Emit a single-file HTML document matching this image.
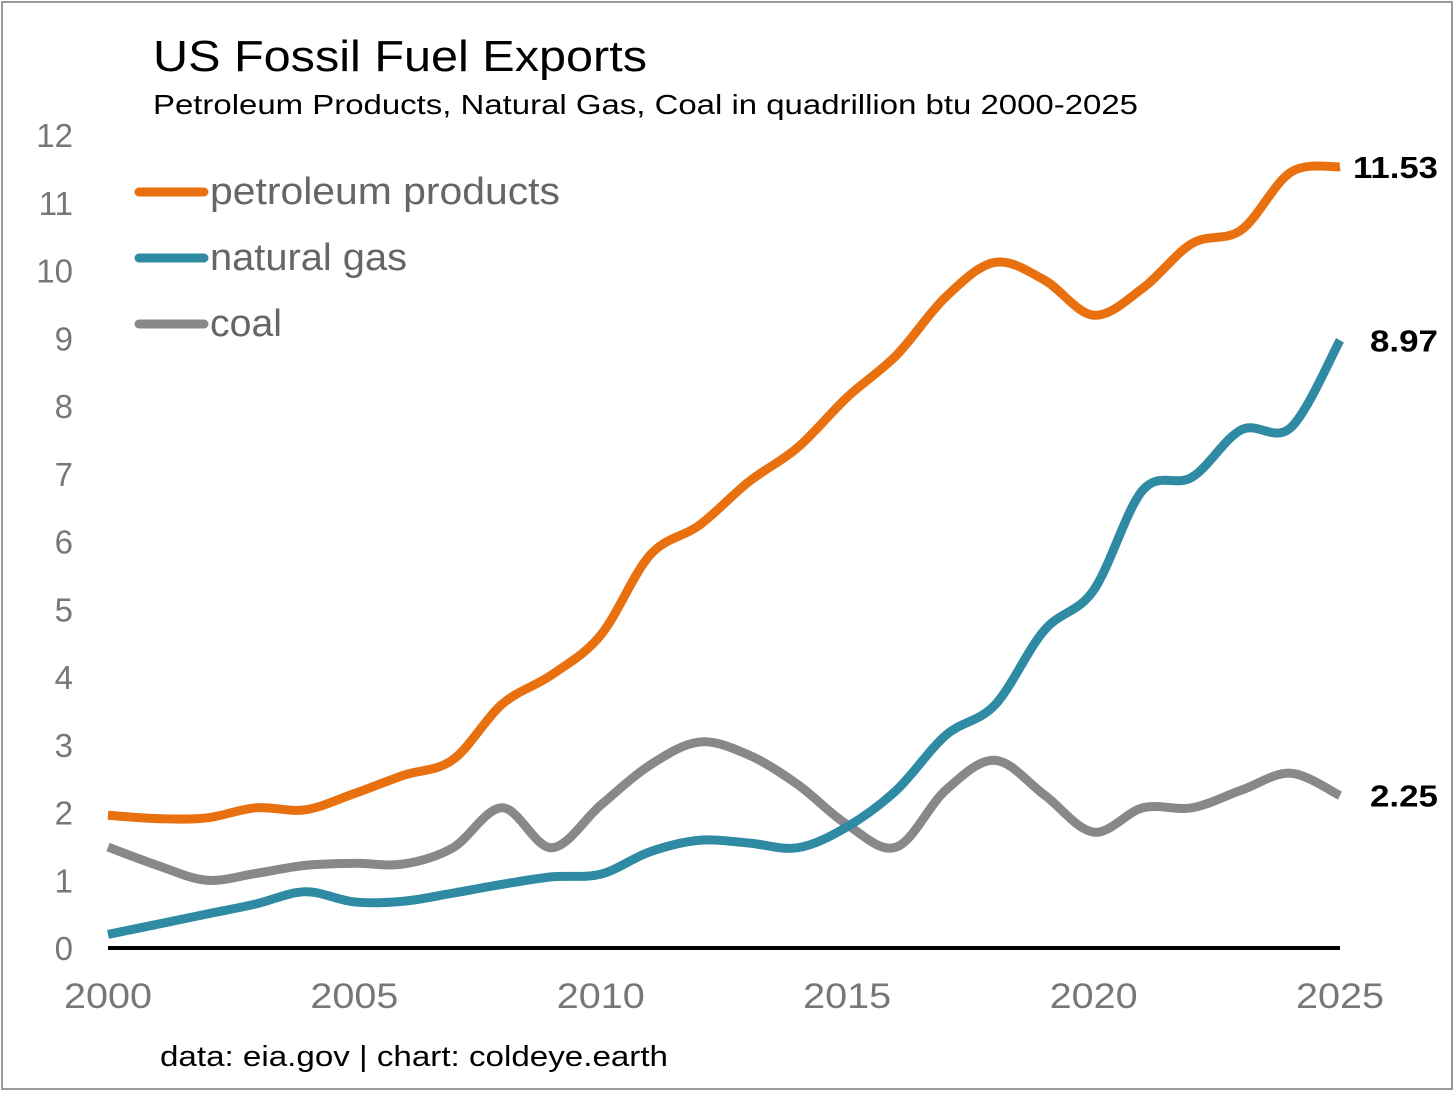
<!DOCTYPE html>
<html><head><meta charset="utf-8"><style>
html,body{margin:0;padding:0;background:#fff;}
svg{display:block;font-family:"Liberation Sans",sans-serif;}
</style></head><body>
<svg id="chart" width="1456" height="1094" viewBox="0 0 1456 1094">
<rect x="2" y="2" width="1450" height="1087" fill="#fff" stroke="#999" stroke-width="2"/>
<text x="153" y="71" font-size="44" fill="#000" textLength="494" lengthAdjust="spacingAndGlyphs">US Fossil Fuel Exports</text>
<text x="153" y="114" font-size="28" fill="#000" textLength="985" lengthAdjust="spacingAndGlyphs">Petroleum Products, Natural Gas, Coal in quadrillion btu 2000-2025</text>
<g id="yticks"></g><g id="xticks"></g>
<line x1="108" y1="948" x2="1340" y2="948" stroke="#000" stroke-width="4"/>
<g id="series"></g>
<g>
<line x1="139" y1="192" x2="204" y2="192" stroke="#E8700E" stroke-width="9" stroke-linecap="round"/>
<text x="210" y="204" font-size="38" fill="#666" textLength="350" lengthAdjust="spacingAndGlyphs">petroleum products</text>
<line x1="139" y1="258" x2="204" y2="258" stroke="#2E8BA3" stroke-width="9" stroke-linecap="round"/>
<text x="210" y="270" font-size="38" fill="#666" textLength="197" lengthAdjust="spacingAndGlyphs">natural gas</text>
<line x1="139" y1="324" x2="204" y2="324" stroke="#888" stroke-width="9" stroke-linecap="round"/>
<text x="210" y="336" font-size="38" fill="#666" textLength="72" lengthAdjust="spacingAndGlyphs">coal</text>
</g>
<text x="160" y="1066" font-size="29" fill="#000" textLength="508" lengthAdjust="spacingAndGlyphs">data: eia.gov | chart: coldeye.earth</text>
</svg>
<script>
const years=[2000,2001,2002,2003,2004,2005,2006,2007,2008,2009,2010,2011,2012,2013,2014,2015,2016,2017,2018,2019,2020,2021,2022,2023,2024,2025];
const petroleum=[1.96,1.91,1.92,2.07,2.04,2.28,2.55,2.78,3.6,4.03,4.62,5.8,6.24,6.88,7.39,8.13,8.75,9.61,10.12,9.86,9.34,9.74,10.4,10.6,11.45,11.53];
const naturalGas=[0.2,0.35,0.5,0.65,0.83,0.68,0.69,0.81,0.94,1.05,1.09,1.42,1.59,1.55,1.48,1.79,2.33,3.14,3.59,4.69,5.28,6.76,6.95,7.65,7.68,8.97];
const coal=[1.49,1.22,1.0,1.1,1.22,1.25,1.24,1.48,2.07,1.48,2.11,2.7,3.04,2.85,2.41,1.82,1.49,2.33,2.77,2.26,1.71,2.07,2.07,2.33,2.58,2.25];
const yTicks=[0,1,2,3,4,5,6,7,8,9,10,11,12];
const xTicks=[2000,2005,2010,2015,2020,2025];
const endLabels=["11.53","8.97","2.25"];
const NS="http://www.w3.org/2000/svg";
const X=v=>108+(v-2000)*(1340-108)/25;
const Y=v=>948-v*(948-135)/12;
function mk(tag,attrs,parent){const e=document.createElementNS(NS,tag);for(const k in attrs)e.setAttribute(k,attrs[k]);parent.appendChild(e);return e;}
const yg=document.getElementById('yticks'),xg=document.getElementById('xticks'),sg=document.getElementById('series');
yTicks.forEach(t=>{const e=mk('text',{x:73,y:Y(t)+12,'font-size':33,fill:'#777','text-anchor':'end'},yg);e.textContent=t;

});
xTicks.forEach(t=>{const e=mk('text',{x:X(t),y:1008,'font-size':35,fill:'#777','text-anchor':'middle',textLength:88,lengthAdjust:'spacingAndGlyphs'},xg);e.textContent=t;

});
function path(vals){const p=vals.map((v,i)=>[X(years[i]),Y(v)]);let d=`M${p[0][0]},${p[0][1]}`;
for(let i=0;i<p.length-1;i++){const p0=p[i-1]||p[i],p1=p[i],p2=p[i+1],p3=p[i+2]||p2;
d+=` C${p1[0]+(p2[0]-p0[0])/6},${p1[1]+(p2[1]-p0[1])/6} ${p2[0]-(p3[0]-p1[0])/6},${p2[1]-(p3[1]-p1[1])/6} ${p2[0]},${p2[1]}`;}return d;}
const ser=[[coal,'#888','coal'],[naturalGas,'#2E8BA3','natural-gas'],[petroleum,'#E8700E','petroleum']];
ser.forEach(s=>{const e=mk('path',{d:path(s[0]),fill:'none',stroke:s[1],'stroke-width':9,'stroke-linejoin':'round'},sg);

});
const widths=[85,68,68];
[[petroleum,0,'petroleum'],[naturalGas,1,'natural-gas'],[coal,2,'coal']].forEach(s=>{const v=s[0][s[0].length-1];
const e=mk('text',{x:1438,y:Y(v)+11,'font-size':31,fill:'#000','text-anchor':'end','font-weight':'bold',textLength:widths[s[1]],lengthAdjust:'spacingAndGlyphs'},sg);e.textContent=endLabels[s[1]];

});
</script>
</body></html>
